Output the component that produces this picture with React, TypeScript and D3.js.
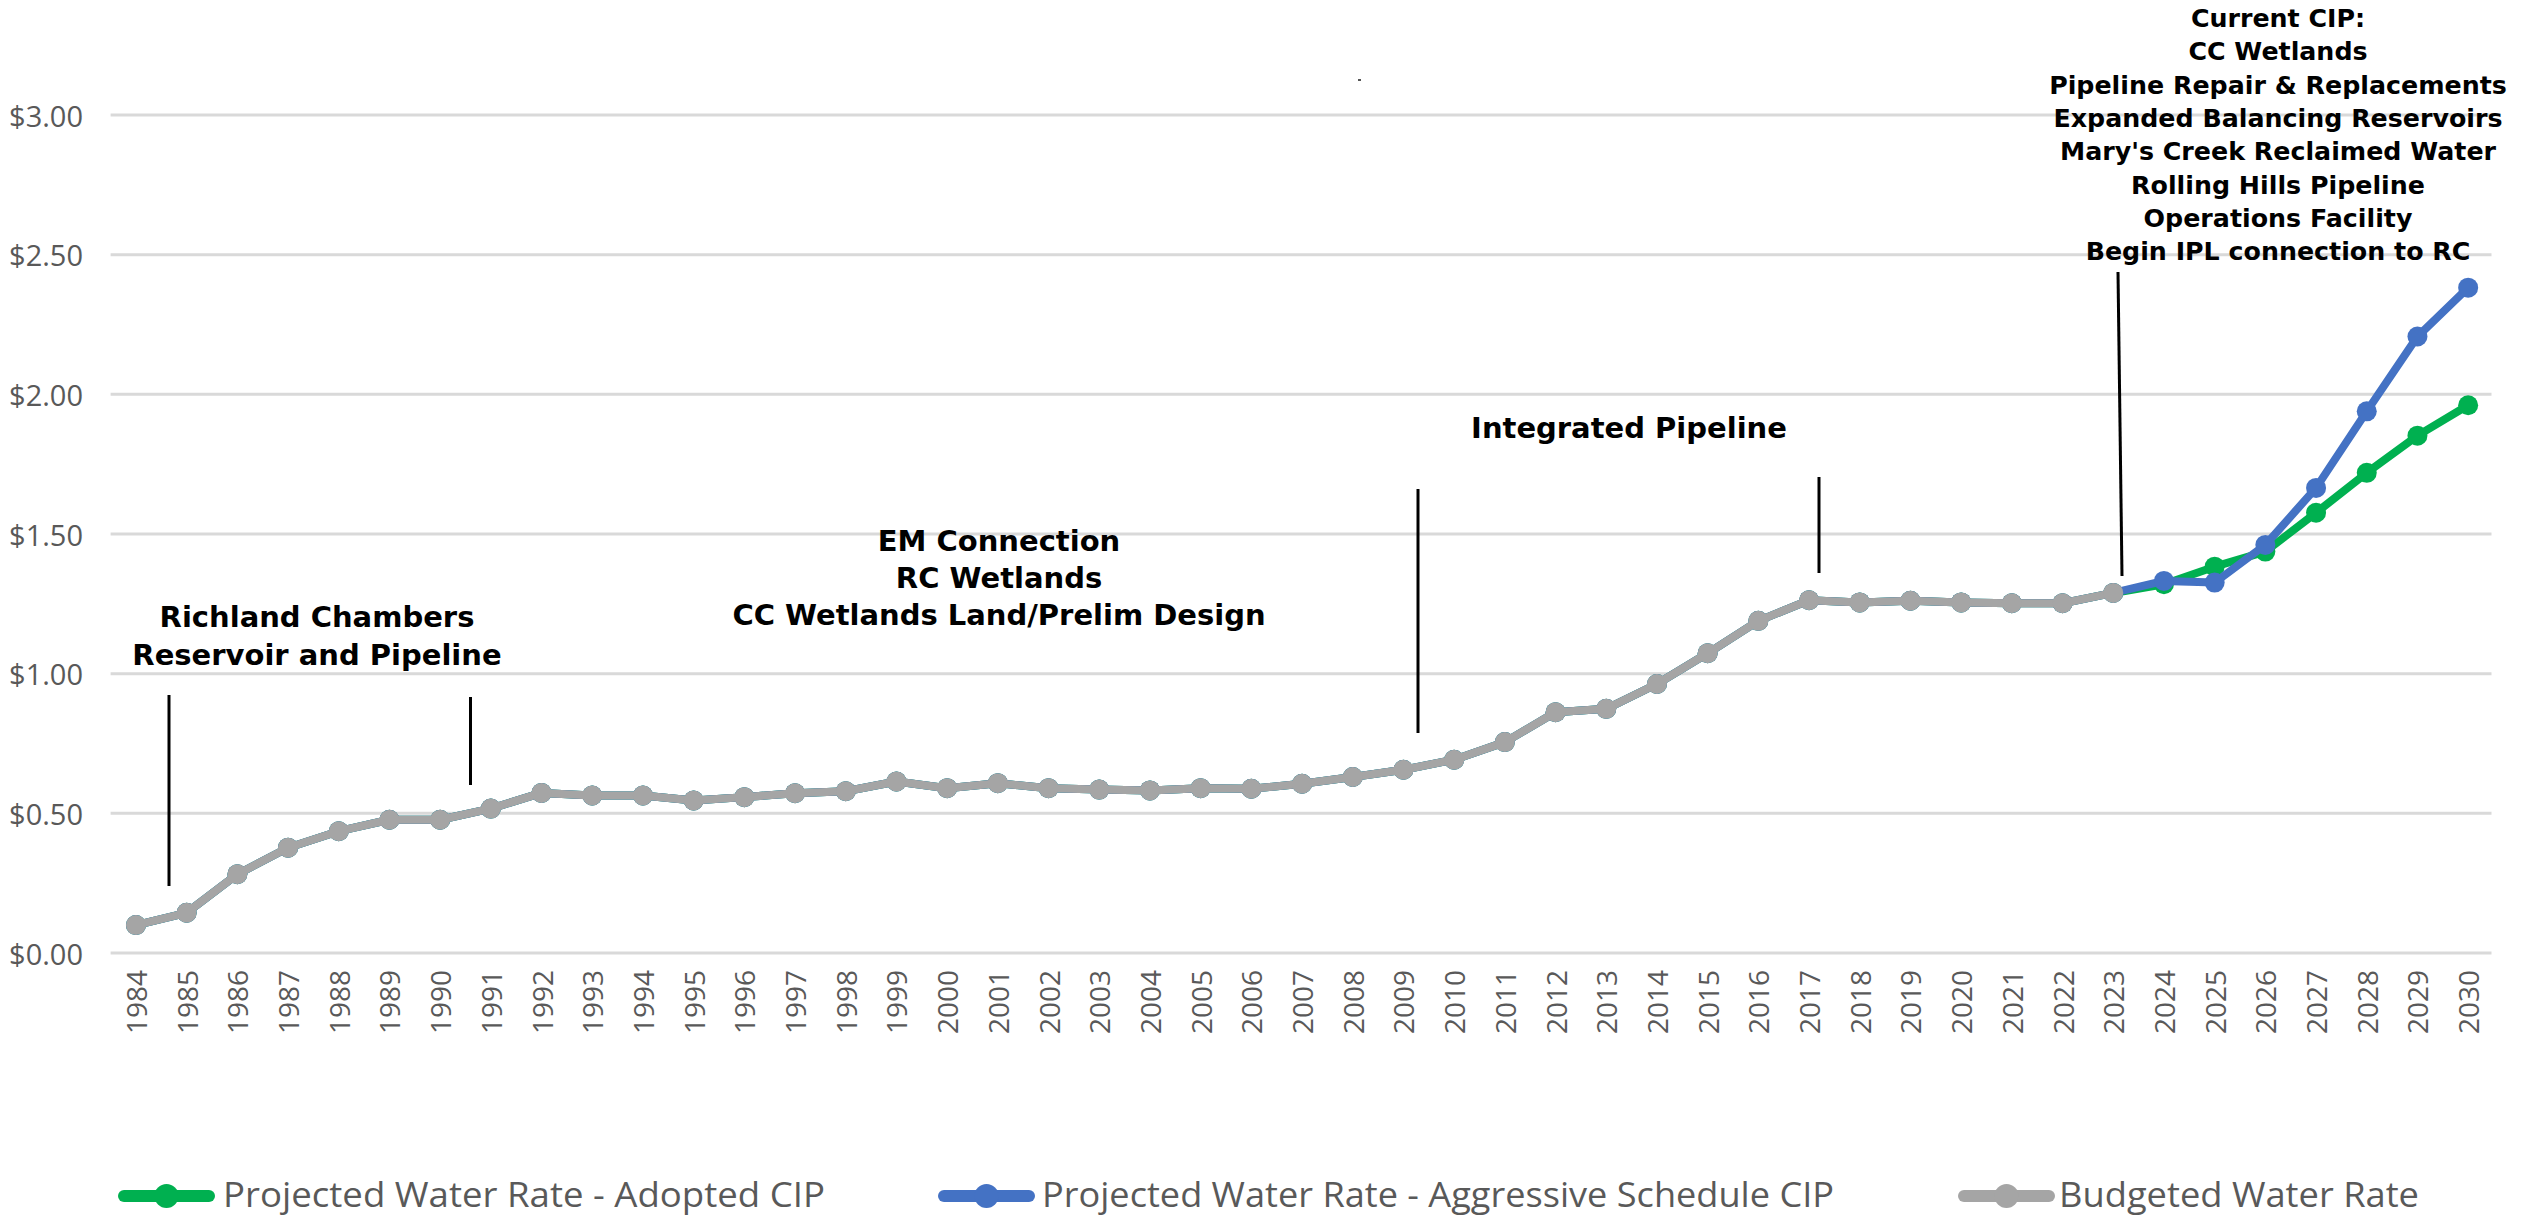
import React from "react";
import * as d3 from "d3";

const years: number[] = [
  1984, 1985, 1986, 1987, 1988, 1989, 1990, 1991, 1992, 1993, 1994, 1995, 1996, 1997, 1998, 1999,
  2000, 2001, 2002, 2003, 2004, 2005, 2006, 2007, 2008, 2009, 2010, 2011, 2012, 2013, 2014, 2015,
  2016, 2017, 2018, 2019, 2020, 2021, 2022, 2023, 2024, 2025, 2026, 2027, 2028, 2029, 2030,
];

// Budgeted water rate 1984-2023
const budgeted: number[] = [
  0.1, 0.144, 0.282, 0.377, 0.436, 0.477, 0.477, 0.517, 0.573, 0.564, 0.564, 0.546, 0.558, 0.572,
  0.579, 0.614, 0.59, 0.608, 0.59, 0.585, 0.582, 0.59, 0.588, 0.606, 0.63, 0.656, 0.692, 0.755,
  0.862, 0.874, 0.963, 1.073, 1.189, 1.263, 1.255, 1.261, 1.255, 1.252, 1.252, 1.289,
];

// Projections 2024-2030
const adoptedProjection: number[] = [1.32, 1.383, 1.437, 1.576, 1.719, 1.852, 1.961];
const aggressiveProjection: number[] = [1.332, 1.326, 1.461, 1.665, 1.939, 2.207, 2.382];

const yTicks: number[] = [0, 0.5, 1, 1.5, 2, 2.5, 3];

const seriesNames: string[] = [
  "Projected Water Rate - Adopted CIP",
  "Projected Water Rate - Aggressive Schedule CIP",
  "Budgeted Water Rate",
];
const seriesColors: string[] = ["#00B050", "#4472C4", "#A5A5A5"];

type Note = { lines: string[]; x: number; y: number; size: number; lh: number };
const notes: Note[] = [
  { lines: ["Richland Chambers", "Reservoir and Pipeline"], x: 317, y: 627, size: 29, lh: 38 },
  { lines: ["EM Connection", "RC Wetlands", "CC Wetlands Land/Prelim Design"], x: 999, y: 551, size: 29, lh: 37 },
  { lines: ["Integrated Pipeline"], x: 1629, y: 438, size: 29, lh: 37 },
  {
    lines: [
      "Current CIP:",
      "CC Wetlands",
      "Pipeline Repair & Replacements",
      "Expanded Balancing Reservoirs",
      "Mary's Creek Reclaimed Water",
      "Rolling Hills Pipeline",
      "Operations Facility",
      "Begin IPL connection to RC",
    ],
    x: 2278,
    y: 27,
    size: 25.3,
    lh: 33.3,
  },
];
const noteLines: [number, number, number, number][] = [
  [169, 695, 169, 886],
  [470.5, 697, 470.5, 785],
  [1418, 489, 1418, 733],
  [1819, 477, 1819, 573],
  [2118, 272, 2122, 576],
];

export default function App() {
  const W = 2532;
  const H = 1216;
  const left = 110.6;
  const right = 2493.5;
  const x = d3.scalePoint<number>().domain(years).range([left, right]).padding(0.5);
  const y = d3.scaleLinear().domain([0, 3]).range([953, 115]);

  const adopted = budgeted.concat(adoptedProjection);
  const aggressive = budgeted.concat(aggressiveProjection);
  const hist = budgeted;

  const line = d3
    .line<number>()
    .x((_, i) => x(years[i]) as number)
    .y((v) => y(v));

  const seriesData = [adopted, aggressive, hist];

  const axisFont = "'Open Sans', sans-serif";
  const noteFont = "'DejaVu Sans', sans-serif";
  const grey = "#595959";

  // legend layout
  const legendItems = [
    { lx: 118, tx: 223, tw: 602 },
    { lx: 938, tx: 1042, tw: 792 },
    { lx: 1958, tx: 2059, tw: 360 },
  ];
  const legendY = 1196;

  return (
    <svg
      width={W}
      height={H}
      style={{ position: "absolute", top: 0, left: 0, background: "#fff" }}
      xmlns="http://www.w3.org/2000/svg"
    >
      <rect x={0} y={0} width={W} height={H} fill="#fff" />
      <rect x={1358} y={79} width={3} height={2} fill="#555" />
      {/* gridlines */}
      {yTicks.map((t) => (
        <line key={t} x1={left} x2={right - 2} y1={y(t)} y2={y(t)} stroke="#D9D9D9" strokeWidth={3} />
      ))}
      {/* y labels */}
      {yTicks.map((t) => (
        <text
          key={"l" + t}
          x={83}
          y={y(t)}
          textAnchor="end"
          dominantBaseline="central"
          fontFamily={axisFont}
          fontSize={29}
          fill={grey}
        >
          {d3.format("$.2f")(t)}
        </text>
      ))}
      {/* x labels */}
      {years.map((yr) => (
        <text
          key={"x" + yr}
          transform={`translate(${x(yr)},970) rotate(-90)`}
          textAnchor="end"
          dominantBaseline="central"
          fontFamily={axisFont}
          fontSize={28}
          fill={grey}
        >
          {yr}
        </text>
      ))}
      {/* series */}
      {seriesData.map((d, si) => (
        <g key={"s" + si}>
          <path
            d={line(d) || ""}
            fill="none"
            stroke={seriesColors[si]}
            strokeWidth={8}
            strokeLinejoin="round"
          />
          {d.map((v, i) => (
            <circle key={i} cx={x(years[i])} cy={y(v)} r={10} fill={seriesColors[si]} />
          ))}
        </g>
      ))}
      {/* annotation lines */}
      {noteLines.map((l, i) => (
        <line key={"nl" + i} x1={l[0]} y1={l[1]} x2={l[2]} y2={l[3]} stroke="#000" strokeWidth={3} />
      ))}
      {/* annotation text */}
      {notes.map((n, i) => (
        <text
          key={"n" + i}
          x={n.x}
          y={n.y}
          textAnchor="middle"
          fontFamily={noteFont}
          fontWeight="bold"
          fontSize={n.size}
          fill="#000"
        >
          {n.lines.map((s, j) => (
            <tspan key={j} x={n.x} y={n.y + j * n.lh}>
              {s}
            </tspan>
          ))}
        </text>
      ))}
      {/* legend */}
      {legendItems.map((it, i) => (
        <g key={"lg" + i}>
          <line
            x1={it.lx + 6}
            x2={it.lx + 91}
            y1={legendY}
            y2={legendY}
            stroke={seriesColors[i]}
            strokeWidth={12}
            strokeLinecap="round"
          />
          <circle cx={it.lx + 48.5} cy={legendY} r={12} fill={seriesColors[i]} />
          <text
            x={it.tx}
            y={1207}
            fontFamily={axisFont}
            fontSize={34}
            fill={grey}
            textLength={it.tw}
            lengthAdjust="spacingAndGlyphs"
          >
            {seriesNames[i]}
          </text>
        </g>
      ))}
    </svg>
  );
}
